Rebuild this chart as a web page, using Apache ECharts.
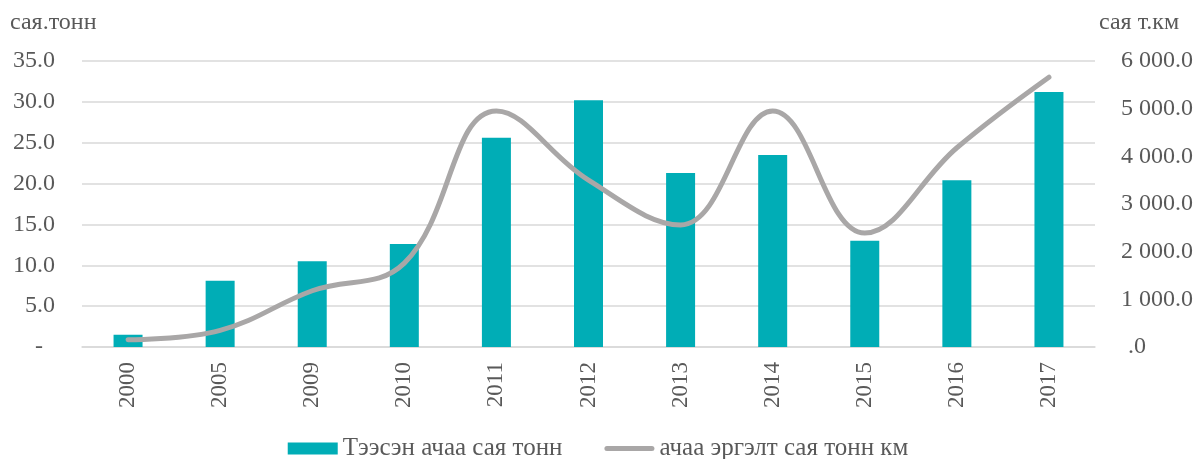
<!DOCTYPE html>
<html>
<head>
<meta charset="utf-8">
<script src="https://cdn.jsdelivr.net/npm/echarts@6/dist/echarts.min.js"></script>
<style>
  html, body { margin: 0; padding: 0; background: #fff; }
  #chart { width: 1196px; height: 459px; }
</style>
</head>
<body>
<div id="chart"></div>
<script>
// Years on the category axis
const years = ['2000', '2005', '2009', '2010', '2011', '2012', '2013', '2014', '2015', '2016', '2017'];
// Freight carried, million tonnes (left axis)
const freightTonnes = [1.5, 8.1, 10.5, 12.6, 25.6, 30.2, 21.3, 23.5, 13.0, 20.4, 31.2];
// Freight turnover, million tonne-km (right axis)
const freightTurnover = [150, 350, 1180, 1760, 4950, 3500, 2560, 4950, 2390, 4180, 5660];
// Axis ticks
const leftTicks = [0, 5, 10, 15, 20, 25, 30, 35];
const rightTicks = [0, 1000, 2000, 3000, 4000, 5000, 6000];

const textColor = '#595959';
const lineColor = '#A9A7A7';
const barColor = '#00ADB6';
const font = '"Liberation Serif", "Times New Roman", serif';
const fs = 24;

function fmtLeft(v) {
  return v === 0 ? '{dash|-}' : v.toFixed(1);
}
function fmtRight(v) {
  if (v === 0) return '{zero|.0}';
  const parts = v.toFixed(1).split('.');
  return parts[0].replace(/\B(?=(\d{3})+(?!\d))/g, ' ') + '.' + parts[1];
}

const chart = echarts.init(document.getElementById('chart'), null, { renderer: 'canvas' });
chart.setOption({
  animation: false,
  textStyle: { fontFamily: font, color: textColor },
  grid: { left: 82, right: 99, top: 61, bottom: 112, containLabel: false },
  legend: {
    top: 431,
    left: 'center',
    itemGap: 42,
    itemWidth: 50,
    itemHeight: 12,
    symbolKeepAspect: true,
    textStyle: { fontFamily: font, fontSize: 25, color: textColor },
    data: [
      { name: 'Тээсэн ачаа сая тонн', icon: 'rect', itemStyle: { color: barColor } },
      {
        name: 'ачаа эргэлт сая тонн км',
        icon: 'path://M2.5,0 H47.5 A2.5,2.5 0 0 1 47.5,5 H2.5 A2.5,2.5 0 0 1 2.5,0 Z',
        itemStyle: { color: lineColor }
      }
    ]
  },
  xAxis: {
    type: 'category',
    data: years,
    axisLine: { show: true, lineStyle: { color: '#d9d9d9', width: 1.5 } },
    axisTick: { show: false },
    axisLabel: {
      rotate: 90,
      margin: 15,
      fontFamily: font,
      fontSize: 23,
      color: textColor
    }
  },
  yAxis: [
    {
      type: 'value',
      min: leftTicks[0],
      max: leftTicks[leftTicks.length - 1],
      interval: 5,
      name: 'сая.тонн',
      nameLocation: 'end',
      nameGap: 26,
      nameTextStyle: { fontFamily: font, fontSize: fs, color: textColor, align: 'left', padding: [0, 0, 0, -72] },
      axisLine: { show: false },
      axisTick: { show: false },
      splitLine: { lineStyle: { color: '#d9d9d9', width: 1.5 } },
      axisLabel: {
        margin: 27,
        fontFamily: font,
        fontSize: fs,
        color: textColor,
        formatter: fmtLeft,
        rich: { dash: { fontFamily: font, fontSize: fs, color: textColor, padding: [0, 12, 0, 0] } }
      }
    },
    {
      type: 'value',
      min: rightTicks[0],
      max: rightTicks[rightTicks.length - 1],
      interval: 1000,
      name: 'сая т.км',
      nameLocation: 'end',
      nameGap: 26,
      nameTextStyle: { fontFamily: font, fontSize: fs, color: textColor, align: 'left', padding: [0, 0, 0, 4] },
      axisLine: { show: false },
      axisTick: { show: false },
      splitLine: { show: false },
      axisLabel: {
        margin: 26,
        fontFamily: font,
        fontSize: fs,
        color: textColor,
        formatter: fmtRight,
        rich: { zero: { fontFamily: font, fontSize: fs, color: textColor, padding: [0, 0, 0, 7] } }
      }
    }
  ],
  series: [
    {
      name: 'Тээсэн ачаа сая тонн',
      type: 'bar',
      yAxisIndex: 0,
      data: freightTonnes,
      barWidth: 29,
      itemStyle: { color: barColor }
    },
    {
      name: 'ачаа эргэлт сая тонн км',
      type: 'line',
      yAxisIndex: 1,
      data: freightTurnover,
      smooth: 0.4,
      symbol: 'none',
      lineStyle: { color: lineColor, width: 5, cap: 'round' },
      itemStyle: { color: lineColor }
    }
  ]
});
</script>
</body>
</html>
